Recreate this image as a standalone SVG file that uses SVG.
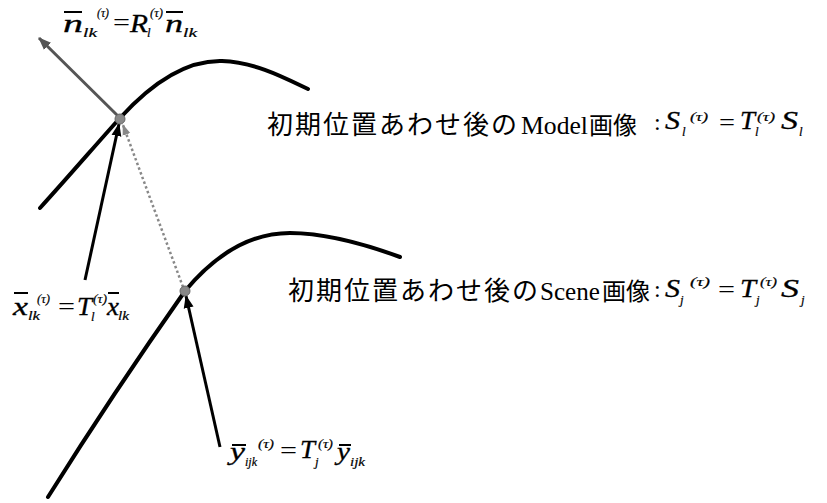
<svg xmlns="http://www.w3.org/2000/svg" width="827" height="503" viewBox="0 0 827 503">
<style>
.curve{fill:none;stroke:#000;stroke-width:4;stroke-linecap:round}
.arr{fill:none;stroke:#000;stroke-width:3}
.m{font-family:"Liberation Serif","Times New Roman",serif;font-style:italic;fill:#000;stroke:#000;stroke-width:0.3}
.u{font-family:"Liberation Serif","Times New Roman",serif;fill:#000}
.big{font-size:25px}
.sc{font-size:13px;stroke-width:0.2}
.eq{font-family:"Liberation Serif","Times New Roman",serif;font-size:24px;fill:#000}
.jp{font-family:"Liberation Serif","Noto Sans CJK JP",sans-serif;fill:#000}
.bar{stroke:#000;stroke-width:2}
</style>
<defs>
<marker id="ab" markerUnits="userSpaceOnUse" markerWidth="14" markerHeight="12" refX="12" refY="6" orient="auto"><path d="M0,1 L13,6 L0,11 z" fill="#000"/></marker>
<marker id="ag" markerUnits="userSpaceOnUse" markerWidth="14" markerHeight="12" refX="12" refY="6" orient="auto"><path d="M0,1 L13,6 L0,11 z" fill="#555"/></marker>
<marker id="ad" markerUnits="userSpaceOnUse" markerWidth="12" markerHeight="10" refX="10" refY="5" orient="auto"><path d="M0,1 L11,5 L0,9 z" fill="#888"/></marker>
</defs>
<g id="curves">
<path id="model-curve" class="curve" d="M40,208 C70,175 100,140 120,118 C150,85 185,60 222,61 C255,62 285,78 308,89"/>
<path id="scene-curve" class="curve" d="M48,497 C90,430 140,355 185,291 C215,255 250,233 290,233 C330,233 370,246 400,257"/>
</g>
<g id="connectors">
<line x1="120" y1="118" x2="39" y2="38" stroke="#555" stroke-width="3" marker-end="url(#ag)"/>
<line x1="85" y1="280" x2="119" y2="124" class="arr" marker-end="url(#ab)"/>
<line x1="220" y1="447" x2="186" y2="296" class="arr" marker-end="url(#ab)"/>
<line x1="183" y1="287" x2="123" y2="125" stroke="#888" stroke-width="2.5" stroke-dasharray="2.5,2.5" marker-end="url(#ad)"/>
</g>
<g id="points">
<circle cx="120" cy="119" r="5" fill="#888" stroke="#666" stroke-width="1"/>
<circle cx="185" cy="291" r="5" fill="#888" stroke="#666" stroke-width="1"/>
</g>
<g id="label-n">
<line class="bar" x1="64" y1="12" x2="82" y2="12"/>
<text class="m big" x="63" y="32" textLength="20" lengthAdjust="spacingAndGlyphs">n</text>
<text class="m sc" x="83" y="37" textLength="14" lengthAdjust="spacingAndGlyphs">lk</text>
<text class="m sc" x="97" y="17" textLength="12" lengthAdjust="spacingAndGlyphs">(τ)</text>
<text class="eq" x="113" y="30" textLength="17" lengthAdjust="spacingAndGlyphs">=</text>
<text class="m big" x="130" y="32" textLength="18" lengthAdjust="spacingAndGlyphs">R</text>
<text class="m sc" x="147" y="37">l</text>
<text class="m sc" x="150" y="17" textLength="13" lengthAdjust="spacingAndGlyphs">(τ)</text>
<line class="bar" x1="166" y1="12" x2="183" y2="12"/>
<text class="m big" x="165" y="32" textLength="18" lengthAdjust="spacingAndGlyphs">n</text>
<text class="m sc" x="183" y="37" textLength="14" lengthAdjust="spacingAndGlyphs">lk</text>
</g>
<g id="label-x">
<line class="bar" x1="14" y1="293" x2="28" y2="293"/>
<text class="m big" x="13" y="315" textLength="15" lengthAdjust="spacingAndGlyphs">x</text>
<text class="m sc" x="28" y="320" textLength="12" lengthAdjust="spacingAndGlyphs">lk</text>
<text class="m sc" x="37" y="303" textLength="13" lengthAdjust="spacingAndGlyphs">(τ)</text>
<text class="eq" x="58" y="314" textLength="17" lengthAdjust="spacingAndGlyphs">=</text>
<text class="m big" x="77" y="315" textLength="15" lengthAdjust="spacingAndGlyphs">T</text>
<text class="m sc" x="91" y="321">l</text>
<text class="m sc" x="93" y="303" textLength="14" lengthAdjust="spacingAndGlyphs">(τ)</text>
<line class="bar" x1="108" y1="293" x2="119" y2="293"/>
<text class="m big" x="107" y="315" textLength="12" lengthAdjust="spacingAndGlyphs">x</text>
<text class="m sc" x="118" y="320" textLength="11" lengthAdjust="spacingAndGlyphs">lk</text>
</g>
<g id="label-y">
<line class="bar" x1="232" y1="445" x2="246" y2="445"/>
<text class="m big" x="230" y="460" textLength="15" lengthAdjust="spacingAndGlyphs">y</text>
<text class="m sc" x="245" y="466" textLength="12" lengthAdjust="spacingAndGlyphs">ijk</text>
<text class="m sc" x="258" y="448" textLength="16" lengthAdjust="spacingAndGlyphs">(τ)</text>
<text class="eq" x="280" y="458" textLength="17" lengthAdjust="spacingAndGlyphs">=</text>
<text class="m big" x="300" y="458" textLength="15" lengthAdjust="spacingAndGlyphs">T</text>
<text class="m sc" x="315" y="466">j</text>
<text class="m sc" x="318" y="448" textLength="15" lengthAdjust="spacingAndGlyphs">(τ)</text>
<line class="bar" x1="339" y1="445" x2="351" y2="445"/>
<text class="m big" x="337" y="460" textLength="13" lengthAdjust="spacingAndGlyphs">y</text>
<text class="m sc" x="350" y="466" textLength="15" lengthAdjust="spacingAndGlyphs">ijk</text>
</g>
<g id="text-model">
<text class="jp" x="267" y="134" font-size="26" letter-spacing="2">初期位置あわせ後の</text>
<text class="u" x="521" y="134" font-size="26" textLength="67" lengthAdjust="spacingAndGlyphs">Model</text>
<text class="jp" x="589" y="134" font-size="24">画像</text>
<text class="u" x="654" y="130" font-size="24">:</text>
<text class="m big" x="665" y="129" textLength="15" lengthAdjust="spacingAndGlyphs">S</text>
<text class="m sc" x="682" y="136">l</text>
<text class="m sc" x="690" y="121" textLength="18" lengthAdjust="spacingAndGlyphs">(τ)</text>
<text class="eq" x="719" y="130" textLength="16" lengthAdjust="spacingAndGlyphs">=</text>
<text class="m big" x="740" y="129" textLength="15" lengthAdjust="spacingAndGlyphs">T</text>
<text class="m sc" x="755" y="136">l</text>
<text class="m sc" x="757" y="121" textLength="18" lengthAdjust="spacingAndGlyphs">(τ)</text>
<text class="m big" x="781" y="129" textLength="17" lengthAdjust="spacingAndGlyphs">S</text>
<text class="m sc" x="799" y="136">l</text>
</g>
<g id="text-scene">
<text class="jp" x="288" y="300" font-size="26" letter-spacing="2">初期位置あわせ後の</text>
<text class="u" x="540" y="300" font-size="26" textLength="60" lengthAdjust="spacingAndGlyphs">Scene</text>
<text class="jp" x="602" y="300" font-size="24">画像</text>
<text class="u" x="654" y="297" font-size="24">:</text>
<text class="m big" x="665" y="297" textLength="15" lengthAdjust="spacingAndGlyphs">S</text>
<text class="m sc" x="680" y="304">j</text>
<text class="m sc" x="690" y="286" textLength="20" lengthAdjust="spacingAndGlyphs">(τ)</text>
<text class="eq" x="718" y="297" textLength="17" lengthAdjust="spacingAndGlyphs">=</text>
<text class="m big" x="740" y="297" textLength="16" lengthAdjust="spacingAndGlyphs">T</text>
<text class="m sc" x="756" y="304">j</text>
<text class="m sc" x="760" y="286" textLength="17" lengthAdjust="spacingAndGlyphs">(τ)</text>
<text class="m big" x="781" y="297" textLength="18" lengthAdjust="spacingAndGlyphs">S</text>
<text class="m sc" x="801" y="304">j</text>
</g>
</svg>
